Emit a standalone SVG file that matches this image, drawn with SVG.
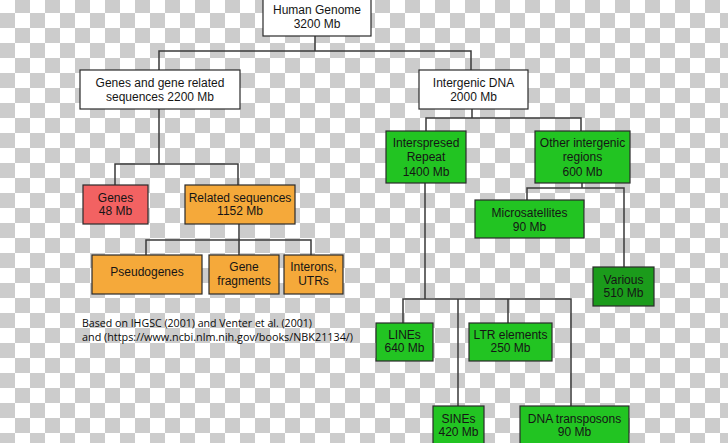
<svg xmlns="http://www.w3.org/2000/svg" width="728" height="443" viewBox="0 0 728 443">
<defs>
<pattern id="checker" x="0" y="-2" width="30" height="30" patternUnits="userSpaceOnUse">
<rect x="0" y="0" width="30" height="30" fill="#ffffff"/>
<rect x="15" y="0" width="15" height="15" fill="#cccccc"/>
<rect x="0" y="15" width="15" height="15" fill="#cccccc"/>
</pattern>
</defs>
<style>
.box{stroke:#2a2a2a;stroke-width:1.2}
.white{fill:#ffffff}
.green{fill:#22c422}
.dgreen{fill:#1b9b1b}
.orange{fill:#f5a93a}
.red{fill:#f26262}
text{font-family:"Liberation Sans",Arial,sans-serif;font-size:12px;fill:#151515;text-anchor:middle}
.cap{font-family:"Open Sans","Noto Sans",sans-serif;font-size:11px;text-anchor:start;fill:#0a0a0a}
#connectors path{fill:none;stroke:#3a3a3a;stroke-width:1.5}
</style>
<rect x="0" y="0" width="728" height="443" fill="url(#checker)"/>
<g id="connectors">
<path d="M315,36 V51 M159,71 V51 H471 V71"/>
<path d="M159,109 V164 M115,185 V164 H238 V185"/>
<path d="M239,224 V240 M146,255 V240 H311 V255 M239,240 V255"/>
<path d="M472,109 V118 M426,131 V118 H581 V131"/>
<path d="M582,183 V188 M527,200 V188 H624 V267"/>
<path d="M425,183 V299 M403,323 V299 H571 V406 M458,299 V406 M508,299 V323"/>
</g>
<g id="human-genome"><rect class="box white" x="263" y="-2" width="108" height="38"/><text x="317" y="14">Human Genome</text><text x="317" y="28">3200 Mb</text></g>
<g id="genes-related"><rect class="box white" x="80" y="70" width="160" height="39"/><text x="160" y="87">Genes and gene related</text><text x="160" y="101">sequences 2200 Mb</text></g>
<g id="intergenic"><rect class="box white" x="419" y="70" width="109" height="39"/><text x="473.5" y="87">Intergenic DNA</text><text x="473.5" y="101">2000 Mb</text></g>
<g id="genes"><rect class="box red" x="83" y="185" width="65" height="39"/><text x="115.5" y="202">Genes</text><text x="115.5" y="215">48 Mb</text></g>
<g id="related-sequences"><rect class="box orange" x="185" y="185" width="110" height="39"/><text x="240" y="202">Related sequences</text><text x="240" y="215">1152 Mb</text></g>
<g id="pseudogenes"><rect class="box orange" x="92" y="255" width="110" height="39"/><text x="147" y="276">Pseudogenes</text></g>
<g id="gene-fragments"><rect class="box orange" x="209" y="255" width="70" height="39"/><text x="244" y="271">Gene</text><text x="244" y="285">fragments</text></g>
<g id="interons"><rect class="box orange" x="284" y="255" width="59" height="39"/><text x="313.5" y="271">Interons,</text><text x="313.5" y="285">UTRs</text></g>
<g id="interspresed"><rect class="box green" x="386" y="131" width="80" height="52"/><text x="426" y="147">Interspresed</text><text x="426" y="161">Repeat</text><text x="426" y="176">1400 Mb</text></g>
<g id="other-intergenic"><rect class="box green" x="535" y="131" width="95" height="52"/><text x="582.5" y="147">Other intergenic</text><text x="582.5" y="161">regions</text><text x="582.5" y="176">600 Mb</text></g>
<g id="microsatellites"><rect class="box green" x="475" y="200" width="109" height="38"/><text x="529.5" y="217">Microsatellites</text><text x="529.5" y="231">90 Mb</text></g>
<g id="various"><rect class="box dgreen" x="593" y="267" width="61" height="39"/><text x="623.5" y="284">Various</text><text x="623.5" y="297">510 Mb</text></g>
<g id="lines"><rect class="box green" x="376" y="323" width="57" height="38"/><text x="404.5" y="339">LINEs</text><text x="404.5" y="352">640 Mb</text></g>
<g id="ltr"><rect class="box green" x="469" y="323" width="83" height="38"/><text x="510.5" y="339">LTR elements</text><text x="510.5" y="352">250 Mb</text></g>
<g id="sines"><rect class="box green" x="433" y="406" width="51" height="40"/><text x="458.5" y="423">SINEs</text><text x="458.5" y="436">420 Mb</text></g>
<g id="dna-transposons"><rect class="box green" x="520" y="406" width="109" height="40"/><text x="574.5" y="423">DNA transposons</text><text x="574.5" y="436">90 Mb</text></g>
<g id="caption"><text class="cap" x="82" y="327" textLength="230" lengthAdjust="spacingAndGlyphs">Based on IHGSC (2001) and Venter et al. (2001)</text><text class="cap" x="82" y="341" textLength="271" lengthAdjust="spacingAndGlyphs">and (https://www.ncbi.nlm.nih.gov/books/NBK21134/)</text></g>
</svg>
